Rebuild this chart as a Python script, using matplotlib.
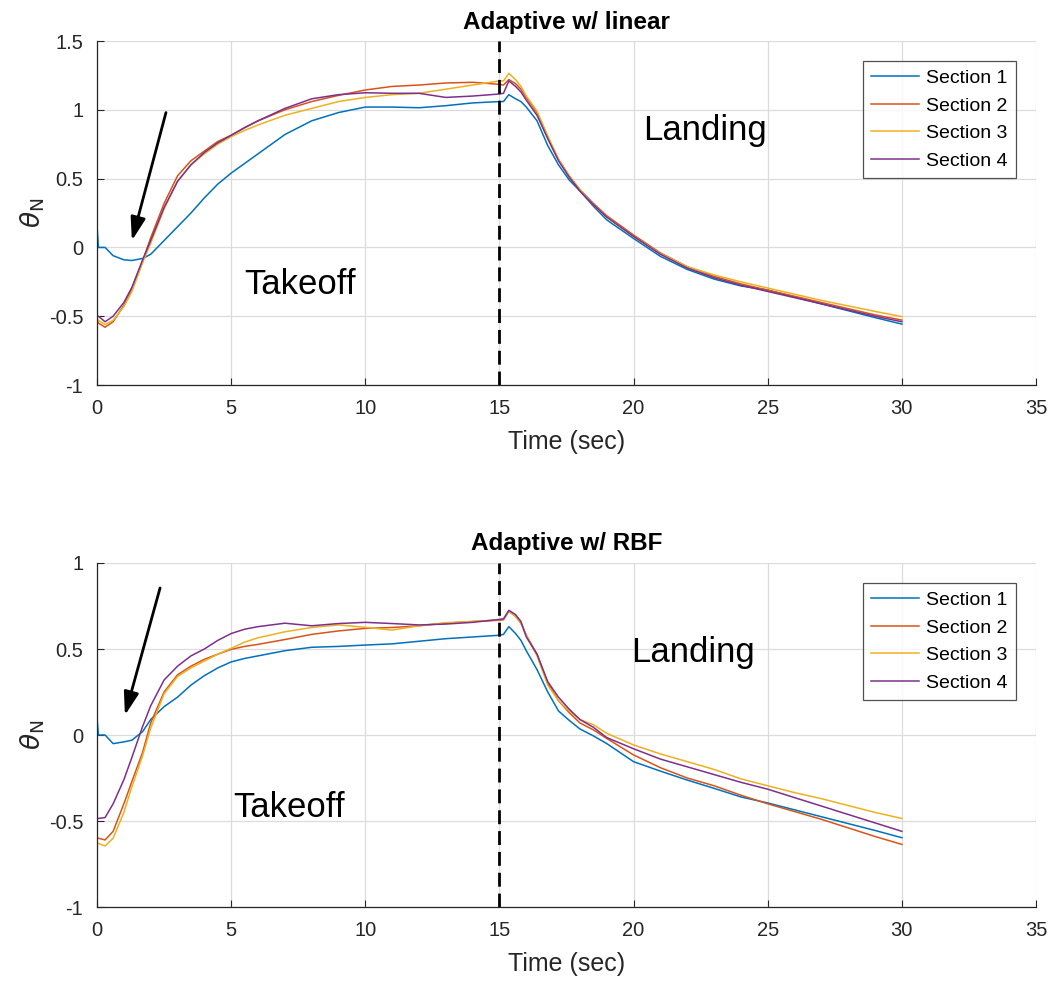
import matplotlib
matplotlib.use("Agg")
import matplotlib.pyplot as plt

plt.rcParams['font.family'] = ['Liberation Sans', 'DejaVu Sans']
plt.rcParams['axes.unicode_minus'] = False

# ---------- data ----------
time_s = [0, 0.05, 0.3, 0.6, 1.0, 1.3, 1.7, 2.0, 2.5, 3.0, 3.5, 4.0, 4.5, 5.0, 5.5,
          6.0, 7.0, 8.0, 9.0, 10.0, 11.0, 12.0, 13.0, 14.0, 15.0, 15.15, 15.35, 15.6,
          15.8, 16.0, 16.4, 16.8, 17.2, 17.6, 18.0, 18.5, 19.0, 20.0, 21.0, 22.0, 23.0,
          24.0, 25.0, 26.0, 27.0, 28.0, 29.0, 30.0]

# Adaptive w/ linear
lin_s1 = [0.16, 0.0, 0.0, -0.06, -0.09, -0.095, -0.08, -0.05, 0.05, 0.15, 0.25, 0.36,
          0.46, 0.54, 0.61, 0.68, 0.82, 0.92, 0.98, 1.02, 1.02, 1.015, 1.03, 1.05, 1.06,
          1.06, 1.11, 1.08, 1.06, 1.02, 0.92, 0.74, 0.6, 0.49, 0.41, 0.3, 0.2, 0.065,
          -0.065, -0.16, -0.23, -0.28, -0.31, -0.36, -0.41, -0.46, -0.51, -0.557]
lin_s2 = [-0.53, -0.55, -0.58, -0.54, -0.42, -0.3, -0.1, 0.07, 0.32, 0.52, 0.63, 0.7,
          0.77, 0.815, 0.87, 0.92, 1.0, 1.06, 1.105, 1.144, 1.17, 1.18, 1.195, 1.2, 1.185,
          1.18, 1.22, 1.19, 1.15, 1.09, 0.98, 0.8, 0.64, 0.52, 0.42, 0.32, 0.23, 0.09,
          -0.04, -0.14, -0.21, -0.265, -0.31, -0.355, -0.4, -0.445, -0.49, -0.528]
lin_s3 = [-0.52, -0.53, -0.56, -0.53, -0.43, -0.32, -0.11, 0.03, 0.28, 0.48, 0.6, 0.68,
          0.75, 0.805, 0.85, 0.89, 0.96, 1.01, 1.06, 1.09, 1.11, 1.12, 1.15, 1.18, 1.21,
          1.21, 1.265, 1.22, 1.17, 1.1, 0.99, 0.81, 0.64, 0.52, 0.42, 0.31, 0.22, 0.08,
          -0.045, -0.14, -0.2, -0.25, -0.295, -0.34, -0.385, -0.425, -0.465, -0.503]
lin_s4 = [-0.5, -0.5, -0.54, -0.5, -0.4, -0.29, -0.09, 0.05, 0.29, 0.48, 0.6, 0.69,
          0.76, 0.815, 0.87, 0.92, 1.01, 1.08, 1.11, 1.124, 1.12, 1.12, 1.09, 1.1, 1.115,
          1.12, 1.21, 1.17, 1.13, 1.07, 0.96, 0.79, 0.63, 0.51, 0.41, 0.31, 0.22, 0.08,
          -0.05, -0.15, -0.22, -0.275, -0.32, -0.365, -0.41, -0.455, -0.5, -0.54]

# Adaptive w/ RBF
rbf_s1 = [0.1, 0.0, 0.0, -0.05, -0.04, -0.03, 0.02, 0.09, 0.165, 0.22, 0.29, 0.345,
          0.39, 0.425, 0.445, 0.46, 0.49, 0.51, 0.515, 0.523, 0.53, 0.545, 0.56, 0.57,
          0.58, 0.585, 0.63, 0.59, 0.55, 0.49, 0.38, 0.25, 0.14, 0.085, 0.035, -0.005,
          -0.05, -0.155, -0.21, -0.262, -0.31, -0.36, -0.395, -0.435, -0.475, -0.515,
          -0.555, -0.597]
rbf_s2 = [-0.6, -0.6, -0.61, -0.56, -0.4, -0.27, -0.1, 0.07, 0.25, 0.35, 0.4, 0.44,
          0.47, 0.498, 0.515, 0.527, 0.555, 0.585, 0.605, 0.62, 0.625, 0.635, 0.65, 0.66,
          0.667, 0.67, 0.72, 0.69, 0.65, 0.58, 0.47, 0.3, 0.2, 0.13, 0.07, 0.03, -0.02,
          -0.116, -0.19, -0.25, -0.295, -0.35, -0.4, -0.445, -0.49, -0.54, -0.59, -0.636]
rbf_s3 = [-0.63, -0.63, -0.645, -0.6, -0.45, -0.3, -0.12, 0.04, 0.24, 0.34, 0.39, 0.43,
          0.47, 0.504, 0.54, 0.565, 0.6, 0.625, 0.64, 0.626, 0.61, 0.635, 0.653, 0.66,
          0.67, 0.675, 0.72, 0.69, 0.65, 0.58, 0.46, 0.29, 0.2, 0.14, 0.09, 0.06, 0.01,
          -0.058, -0.11, -0.155, -0.2, -0.255, -0.295, -0.335, -0.37, -0.41, -0.45, -0.485]
rbf_s4 = [-0.485, -0.485, -0.48, -0.4, -0.26, -0.13, 0.05, 0.17, 0.32, 0.4, 0.46, 0.5,
          0.55, 0.59, 0.615, 0.63, 0.65, 0.635, 0.648, 0.655, 0.648, 0.64, 0.645, 0.655,
          0.672, 0.675, 0.725, 0.7, 0.66, 0.57, 0.47, 0.31, 0.22, 0.15, 0.09, 0.045,
          -0.015, -0.08, -0.14, -0.185, -0.23, -0.275, -0.315, -0.364, -0.413, -0.462,
          -0.511, -0.56]

labels = ["Section 1", "Section 2", "Section 3", "Section 4"]
colors = ["#0072BD", "#D95319", "#EDB120", "#7E2F8E"]

panels = [
    {"title": "Adaptive w/ linear", "series": [lin_s1, lin_s2, lin_s3, lin_s4],
     "ylim": (-1, 1.5), "yticks": [-1, -0.5, 0, 0.5, 1, 1.5],
     "takeoff": (5.5, -0.27), "landing": (20.35, 0.85),
     "arrow_tail": (2.57, 0.98), "arrow_tip": (1.3, 0.05)},
    {"title": "Adaptive w/ RBF", "series": [rbf_s1, rbf_s2, rbf_s3, rbf_s4],
     "ylim": (-1, 1), "yticks": [-1, -0.5, 0, 0.5, 1],
     "takeoff": (5.07, -0.42), "landing": (19.9, 0.48),
     "arrow_tail": (2.35, 0.855), "arrow_tip": (1.04, 0.115)},
]

fig = plt.figure(figsize=(10.5, 9.81), dpi=100)
axes_pos = [[0.0924, 0.6075, 0.8943, 0.3507], [0.0924, 0.0754, 0.8943, 0.3507]]

for pos, p in zip(axes_pos, panels):
    ax = fig.add_axes(pos)
    for vals, lab, c in zip(p["series"], labels, colors):
        ax.plot(time_s, vals, color=c, lw=1.1, label=lab)

    ax.axvline(15, color="black", lw=2, linestyle=(0, (5, 2.5)))

    ax.set_xlim(0, 35)
    ax.set_ylim(*p["ylim"])
    ax.set_xticks(range(0, 36, 5))
    ax.set_yticks(p["yticks"])
    ax.set_yticklabels([f"{v:g}" for v in p["yticks"]])
    ax.grid(True, color="#dcdcdc", lw=0.9)
    ax.set_axisbelow(True)
    for s in ["top", "right"]:
        ax.spines[s].set_visible(False)
    for s in ["left", "bottom"]:
        ax.spines[s].set_color("#262626")
        ax.spines[s].set_linewidth(0.9)
    ax.tick_params(direction="in", length=5, labelsize=14.5, colors="#262626",
                   labelcolor="#262626")
    ax.tick_params(axis="x", pad=10)
    ax.tick_params(axis="y", pad=10)

    ax.set_title(p["title"], fontsize=17.5, fontweight="bold", pad=9)
    ax.set_xlabel("Time (sec)", fontsize=18, color="#262626", labelpad=9)
    ax.set_ylabel(r"$\theta_{\rm N}$", fontsize=19, color="#262626", labelpad=1)

    ax.text(*p["takeoff"], "Takeoff", fontsize=25, ha="left", va="center")
    ax.text(*p["landing"], "Landing", fontsize=25, ha="left", va="center")

    ax.annotate("", xy=p["arrow_tip"], xytext=p["arrow_tail"],
                arrowprops=dict(arrowstyle="-|>,head_length=1.4,head_width=0.45",
                                color="black", lw=2, shrinkA=0, shrinkB=0))

    leg = ax.legend(loc="upper right", fontsize=14, handlelength=2.45,
                    frameon=True, fancybox=False, borderaxespad=1.05,
                    borderpad=0.4, labelspacing=0.52, handletextpad=0.4)
    leg.get_frame().set_edgecolor("#262626")
    leg.get_frame().set_linewidth(0.9)

fig.savefig("out.png", dpi=100)
